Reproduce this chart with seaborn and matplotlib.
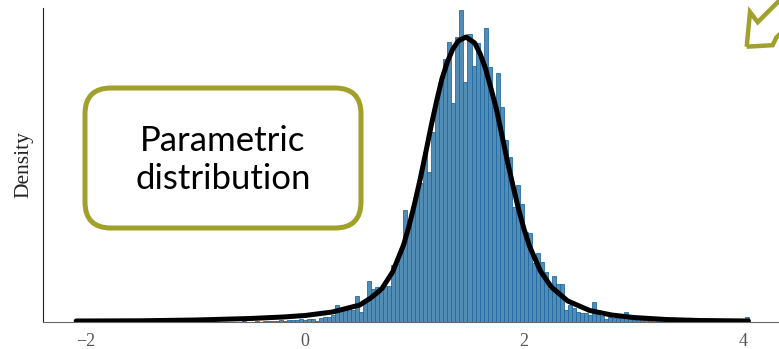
import numpy as np
import pandas as pd
import matplotlib.pyplot as plt
import seaborn as sns
from matplotlib.patches import FancyBboxPatch, Polygon
from matplotlib.transforms import Affine2D

# histogram: equal-width bins, heights in relative density units
bin_start = -2.076
bin_width = 0.0367
bar_heights = (
    [3] + [0] * 39
    + [0, 1, 0, 0, 1, 0, 1, 1, 1, 1, 2, 1, 2]
    + [2, 2, 3, 2, 3, 3, 1, 4, 5, 5, 7]
    + [17, 12, 14, 16, 12, 26, 10, 19, 41, 33, 35, 30, 36, 36, 57, 58, 72]
    + [112, 100, 115, 129, 139, 170, 150, 190, 219, 240, 263, 280,
       219, 285, 312, 240, 288, 256, 279, 260, 294, 255, 215, 249]
    + [215, 182, 165, 115, 137, 118, 90, 89, 59, 69, 60, 50, 33, 46, 38]
    + [38, 12, 17, 14, 10, 9, 9, 7, 20, 8, 6, 3, 5, 4, 4, 6, 10, 3, 2, 2, 2]
    + [2, 1, 2, 1, 1, 1, 1, 1, 0, 1, 0, 0, 1] + [0] * 12
    + [5]
)

# fitted parametric density
curve_x = [-2.09, -1.5, -1.0, -0.5, -0.2, 0.0, 0.25, 0.5, 0.6, 0.7, 0.8, 0.9,
           0.95, 1.0, 1.05, 1.1, 1.15, 1.2, 1.25, 1.3, 1.35, 1.4, 1.47, 1.55,
           1.6, 1.65, 1.7, 1.75, 1.8, 1.85, 1.9, 1.95, 2.0, 2.05, 2.15, 2.25,
           2.4, 2.6, 2.8, 3.0, 3.3, 3.6, 4.05]
curve_y = [1, 1.2, 2, 3.5, 5, 6.5, 10, 17, 24, 33, 50, 77,
           96, 118, 142, 168, 195, 220, 243, 260, 273, 281, 285, 279,
           268, 253, 233, 212, 186, 160, 136, 113, 93, 76, 51, 35,
           21, 11.5, 7, 4.5, 2.5, 1.5, 1]

xticks = [-2, 0, 2, 4]
box_text = "Parametric\ndistribution"

olive = "#a0a02a"

sns.set_style("white")
plt.rcParams["font.family"] = ["Liberation Serif", "DejaVu Serif"]

W, H = 779, 349
fig = plt.figure(figsize=(W / 100, H / 100), dpi=100)
ax = fig.add_axes([43 / W, 27 / H, (W - 43) / W, 314 / H])

edges = bin_start + bin_width * np.arange(len(bar_heights) + 1)
hist_df = pd.DataFrame({"x": edges[:-1] + bin_width / 2, "h": bar_heights})
sns.histplot(data=hist_df, x="x", weights="h", bins=edges.tolist(), ax=ax,
             color="#528db5", edgecolor="#1d649f", linewidth=0.55, alpha=1)
sns.lineplot(x=curve_x, y=curve_y, ax=ax, color="black", linewidth=3.6)

ax.set_xlim(-2.393, 4.329)
ax.set_ylim(0, 314)
ax.set_xticks(xticks)
ax.set_yticks([])
ax.set_xlabel("")
ax.set_ylabel("Density", fontsize=15.5, color="#222")
ax.yaxis.set_label_coords(-0.013, 0.5)
ax.tick_params(axis="x", length=4, width=1, color="#555", labelcolor="#555",
               labelsize=13, pad=4)
for s in ["top", "right"]:
    ax.spines[s].set_visible(False)
ax.spines["left"].set_color("#222")
ax.spines["bottom"].set_color("#666")

# pixel transform (image coords, y measured from bottom)
px = Affine2D().scale(1 / W, 1 / H) + fig.transFigure

box = FancyBboxPatch((85, H - 228), 276, 140,
                     boxstyle="round,pad=0,rounding_size=26",
                     transform=px, facecolor="white", edgecolor=olive,
                     linewidth=3.6, zorder=5)
fig.add_artist(box)
fig.text(223 / W, (H - 160) / H, box_text, transform=fig.transFigure,
         ha="center", va="center", fontsize=25, linespacing=1.25,
         family=["Lato", "DejaVu Sans"], color="black", zorder=6)

# hollow arrow in the upper right, pointing down-left (offsets from its tip,
# image pixels with y downwards); it runs off the right edge
tip = np.array([746.7, 46.7])
outline = [(0, 0), (3.3, -34.7), (11, -24.5), (81, -94.5),
           (99.5, -79), (29.5, -9), (26, -1.5)]
pts = [(tip[0] + dx, H - (tip[1] + dy)) for dx, dy in outline]
arrow = Polygon(pts, closed=True, fill=False, edgecolor=olive, linewidth=3.2,
                joinstyle="miter", transform=px, zorder=5)
fig.add_artist(arrow)

fig.savefig("out.png", dpi=100)
